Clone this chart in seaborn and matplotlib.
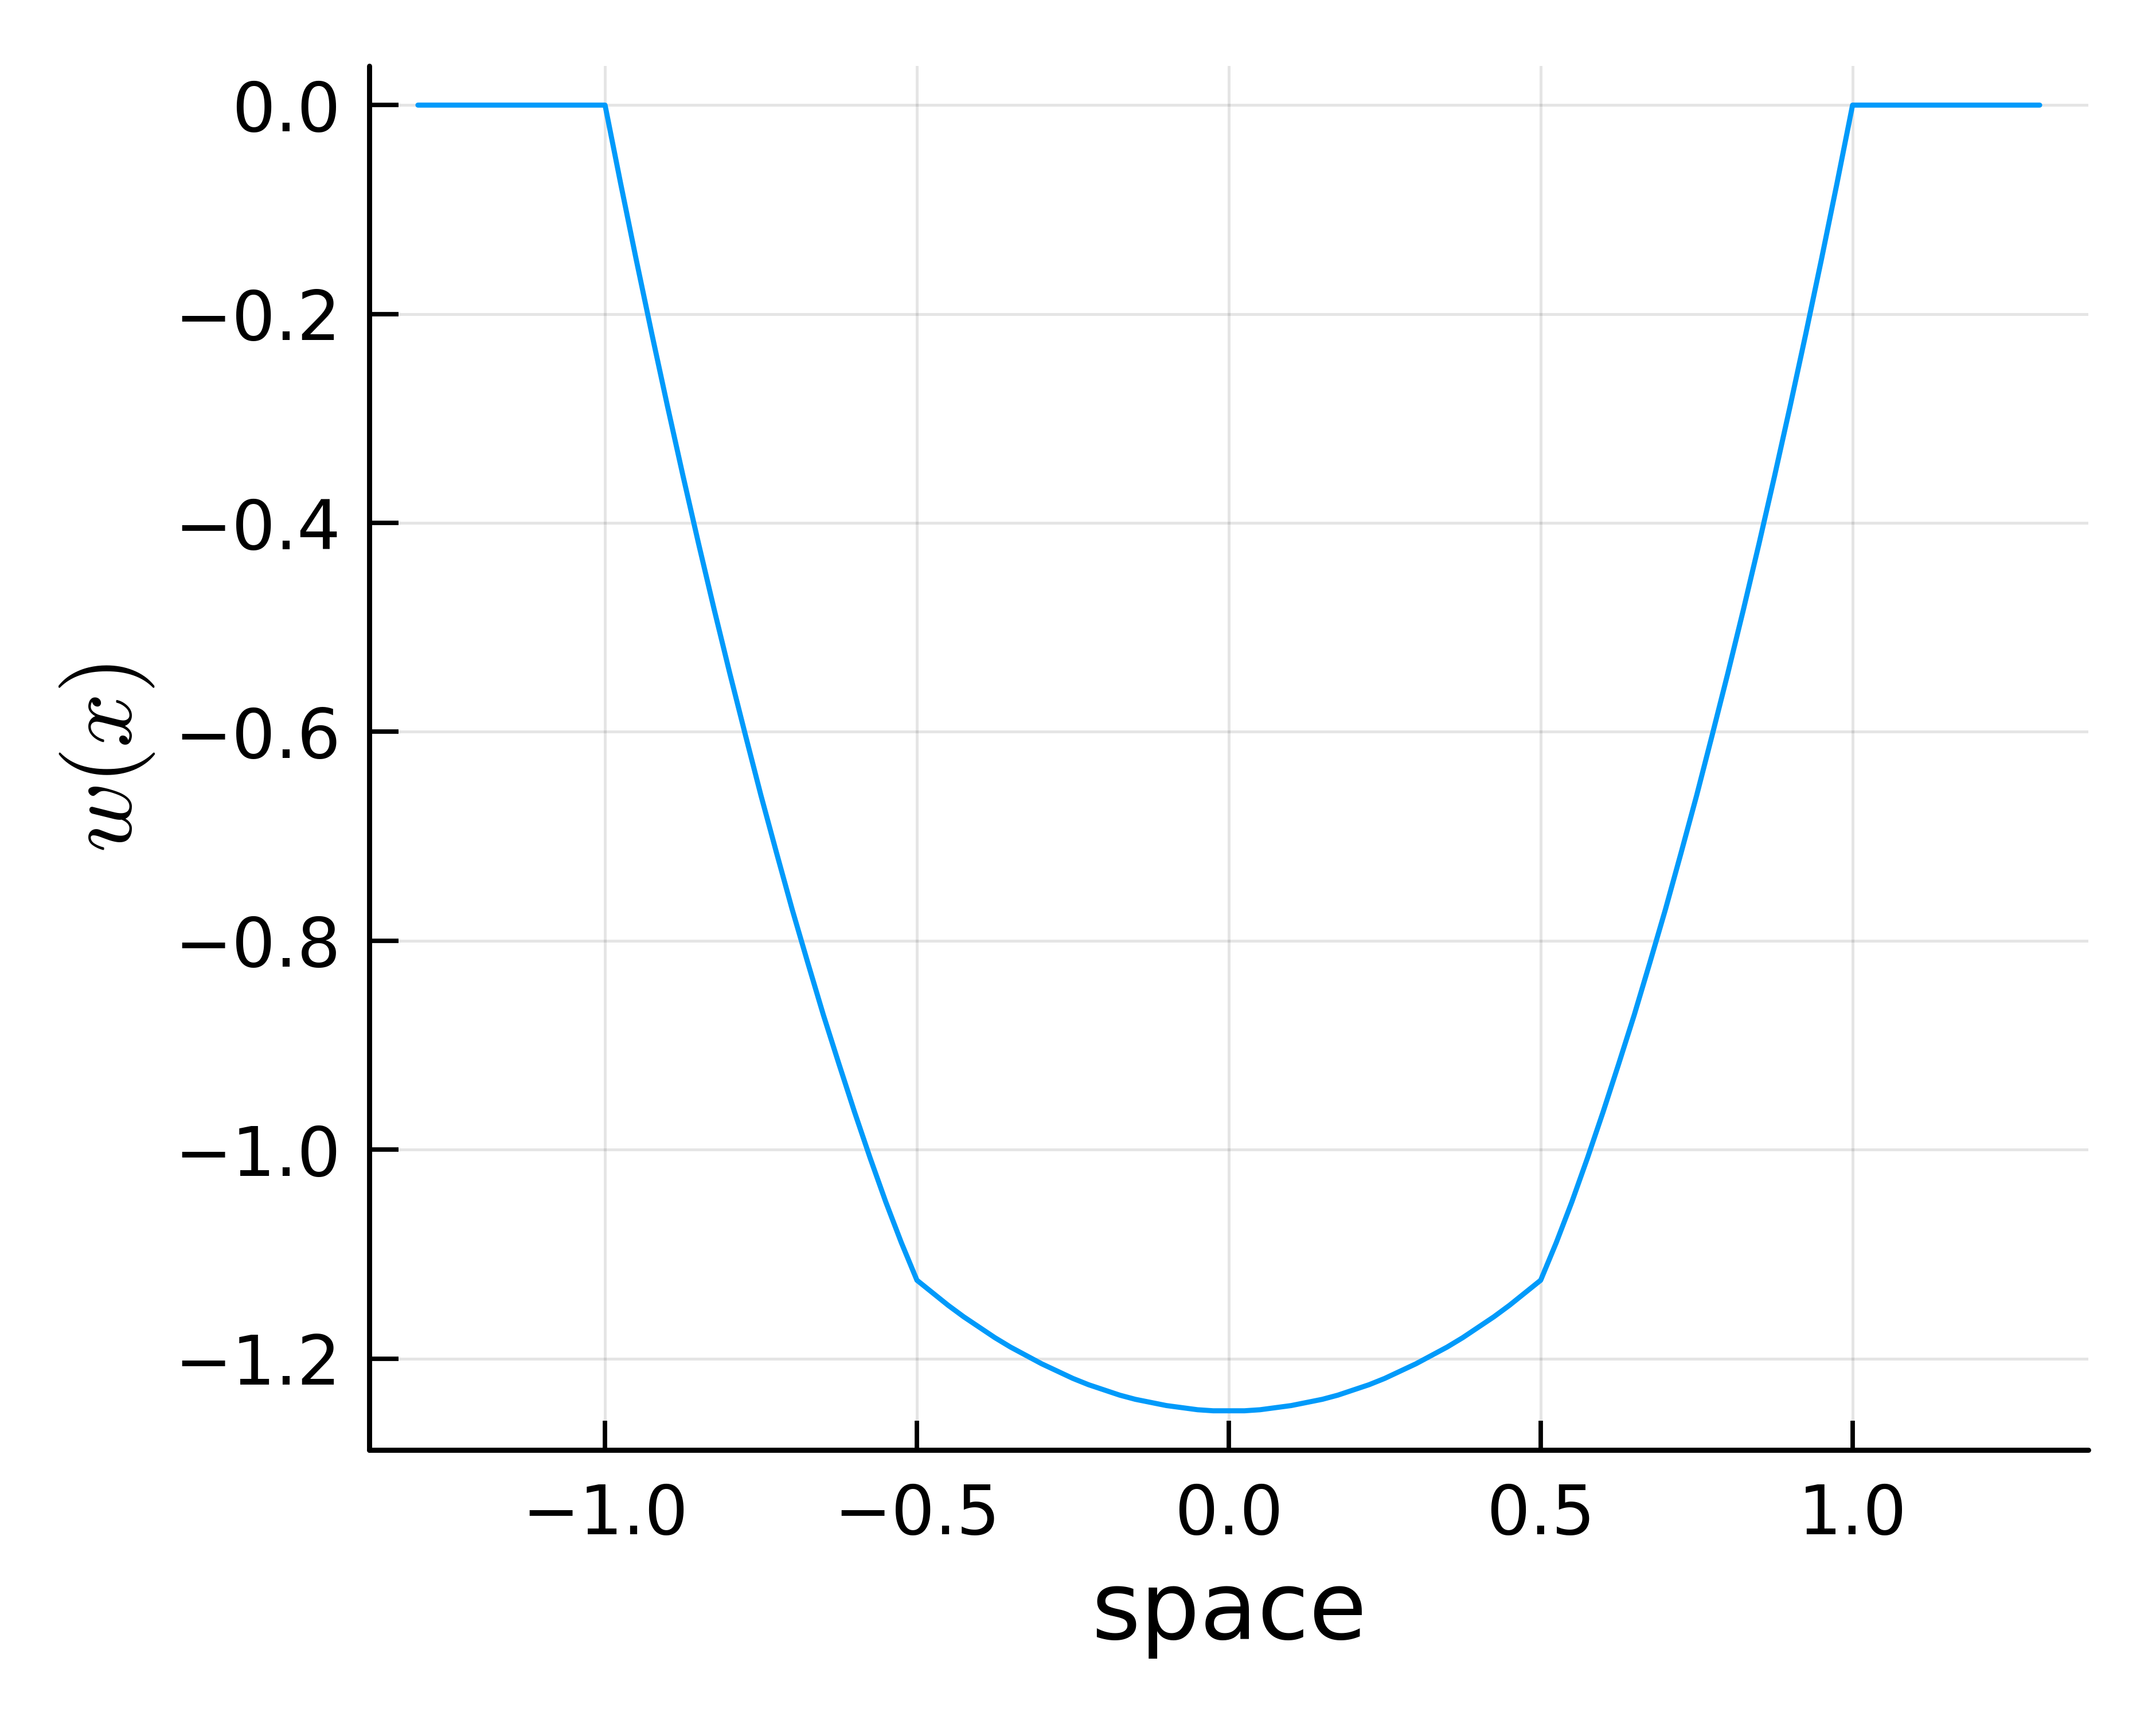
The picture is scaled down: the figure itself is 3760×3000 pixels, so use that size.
import numpy as np
import pandas as pd
import matplotlib
matplotlib.use("Agg")
import matplotlib.pyplot as plt
import seaborn as sns

x_vals = [-1.300, -1.000, -0.975, -0.950, -0.925, -0.900, -0.875, -0.850, -0.825, -0.800,
          -0.775, -0.750, -0.725, -0.700, -0.675, -0.650, -0.625, -0.600, -0.575, -0.550,
          -0.525, -0.500, -0.475, -0.450, -0.425, -0.400, -0.375, -0.350, -0.325, -0.300,
          -0.275, -0.250, -0.225, -0.200, -0.175, -0.150, -0.125, -0.100, -0.075, -0.050,
          -0.025, 0.000, 0.025, 0.050, 0.075, 0.100, 0.125, 0.150, 0.175, 0.200,
          0.225, 0.250, 0.275, 0.300, 0.325, 0.350, 0.375, 0.400, 0.425, 0.450,
          0.475, 0.500, 0.525, 0.550, 0.575, 0.600, 0.625, 0.650, 0.675, 0.700,
          0.725, 0.750, 0.775, 0.800, 0.825, 0.850, 0.875, 0.900, 0.925, 0.950,
          0.975, 1.000, 1.300]
w_vals = [0.000, 0.000, -0.075, -0.148, -0.219, -0.288, -0.355, -0.420, -0.483, -0.544,
          -0.603, -0.661, -0.716, -0.770, -0.821, -0.871, -0.918, -0.964, -1.008, -1.050,
          -1.089, -1.125, -1.137, -1.149, -1.160, -1.170, -1.180, -1.189, -1.197, -1.205,
          -1.212, -1.219, -1.225, -1.230, -1.235, -1.239, -1.242, -1.245, -1.247, -1.249,
          -1.250, -1.250, -1.250, -1.249, -1.247, -1.245, -1.242, -1.239, -1.235, -1.230,
          -1.225, -1.219, -1.212, -1.205, -1.197, -1.189, -1.180, -1.170, -1.160, -1.149,
          -1.137, -1.125, -1.089, -1.050, -1.008, -0.964, -0.918, -0.871, -0.821, -0.770,
          -0.716, -0.661, -0.603, -0.544, -0.483, -0.420, -0.355, -0.288, -0.219, -0.148,
          -0.075, 0.000, 0.000]
x_ticks = [-1.0, -0.5, 0.0, 0.5, 1.0]
y_ticks = [0.0, -0.2, -0.4, -0.6, -0.8, -1.0, -1.2]

df = pd.DataFrame({"space": x_vals, "w": w_vals})

sns.set_theme(style="white")
plt.rcParams["font.family"] = ["DejaVu Sans"]
plt.rcParams["mathtext.fontset"] = "cm"
plt.rcParams["axes.unicode_minus"] = True

DPI = 400
fig = plt.figure(figsize=(3760 / DPI, 3000 / DPI), dpi=DPI)
ax = fig.add_axes([644 / 3760, 1 - 2529 / 3000, (3642 - 644) / 3760, (2529 - 115) / 3000])

sns.lineplot(data=df, x="space", y="w", ax=ax, color="#009AFA", linewidth=1.6,
             sort=False, estimator=None, solid_capstyle="round", solid_joinstyle="round")

ax.set_xlim(-1.378, 1.378)
ax.set_ylim(-1.2875, 0.0375)
ax.set_xticks(x_ticks)
ax.set_yticks(y_ticks)
ax.set_xticklabels([f"{v:.1f}".replace("-", "\u2212") for v in x_ticks])
ax.set_yticklabels([f"{v:.1f}".replace("-", "\u2212") if v != 0 else "0.0" for v in y_ticks])

ax.grid(True, color="black", alpha=0.1, linewidth=0.9)
for s in ["top", "right"]:
    ax.spines[s].set_visible(False)
for s in ["left", "bottom"]:
    ax.spines[s].set_color("black")
    ax.spines[s].set_linewidth(1.6)
    ax.spines[s].set_capstyle("round")

ax.tick_params(axis="both", which="major", direction="in", length=9.2, width=1.4,
               color="black", labelsize=21.5, labelcolor="black",
               bottom=True, left=True)
ax.tick_params(axis="y", pad=9)
ax.tick_params(axis="x", pad=10)

ax.set_xlabel("space", fontsize=29.5, labelpad=6, color="black")
ax.set_ylabel(r"$w(x)$", fontsize=30, labelpad=5.5, color="black")

fig.savefig("out.png", dpi=DPI, facecolor="white")
